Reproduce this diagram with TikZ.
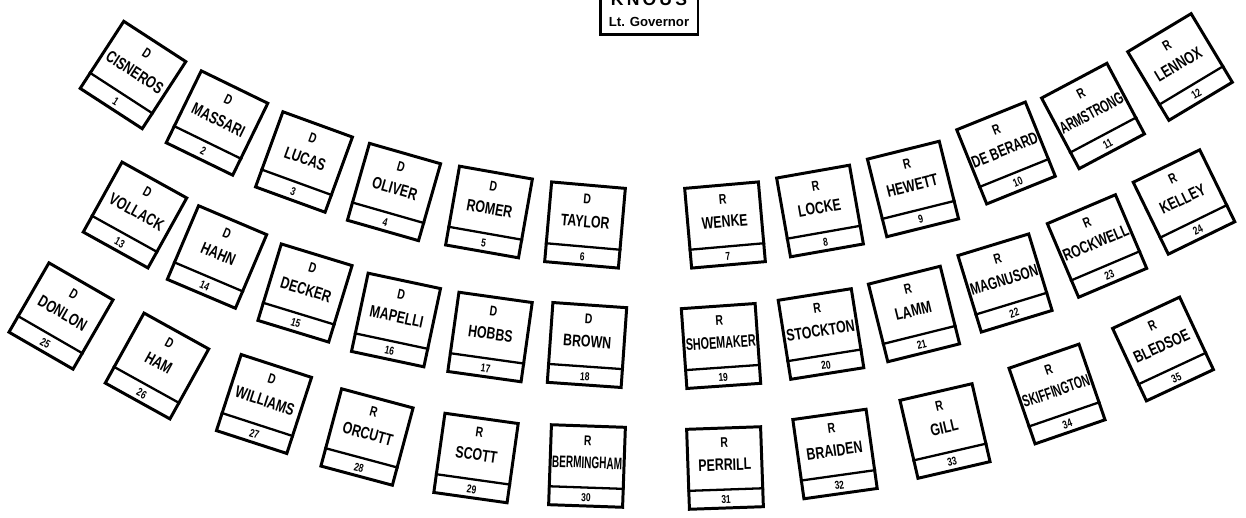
\documentclass[tikz,border=0pt]{standalone}
\usepackage{fontspec}
\usepackage{graphicx}
\setsansfont{Liberation Sans}
\newfontfamily\seatfont{Liberation Sans}[FakeStretch=0.74]
\usetikzlibrary{calc}
\newcommand\fitname[1]{\sbox0{#1}\ifdim\wd0>1.4cm\resizebox{1.4cm}{\height}{#1}\else#1\fi}

\begin{document}
\begin{tikzpicture}[
  x=0.02cm, y=-0.02cm,
  seatbox/.style={
    draw=black,
    line width=1.7pt,
    minimum width=1.48cm,
    minimum height=1.6cm,
    inner sep=0pt
  },
  party/.style={font=\seatfont\bfseries\fontsize{8}{8}\selectfont, inner sep=0pt},
  surname/.style={font=\seatfont\bfseries\fontsize{9.5}{9.5}\selectfont, inner sep=0pt},
  seatno/.style={font=\seatfont\bfseries\fontsize{6.5}{6.5}\selectfont, inner sep=0pt},
  govbox/.style={draw=black, line width=1.7pt, minimum width=1.96cm, minimum height=1.2cm, inner sep=0pt},
  strip/.style={line width=1.3pt}
]
  \useasboundingbox (0,0) rectangle (1246,517);

  % presiding officer
  \node[govbox] (gov) at (649,5) {};
  \node[font=\sffamily\bfseries\fontsize{10}{10}\selectfont\addfontfeature{LetterSpace=18}] (knous) at (649,-1) {KNOUS};
  \node[font=\sffamily\bfseries\fontsize{7.5}{7.5}\selectfont] (ltgov) at (649,22) {Lt. Governor};

  % seats: number / x / y / tilt / party / name
  \foreach \num/\px/\py/\ang/\party/\who in {
    1/133/75/-33/D/CISNEROS, 2/217/123/-26/D/MASSARI, 3/304/162/-20/D/LUCAS,
    4/394/192/-16/D/OLIVER, 5/489/212/-10/D/ROMER, 6/585/225/-5/D/TAYLOR,
    7/725/225/5/R/WENKE, 8/820/211/10/R/LOCKE, 9/913/189/14/R/HEWETT,
    10/1006/153/22/R/DE BERARD, 11/1093/116/28/R/ARMSTRONG, 12/1180/67/31/R/LENNOX,
    13/135/215/-29/D/VOLLACK, 14/217/257/-23/D/HAHN, 15/305/293/-17/D/DECKER,
    16/396/320/-12/D/MAPELLI, 17/490/337/-8/D/HOBBS, 18/587/345/-4/D/BROWN,
    19/721/346/4/R/SHOEMAKER, 20/821/334/9/R/STOCKTON, 21/914/314/14/R/LAMM,
    22/1005/283/17/R/MAGNUSON, 23/1097/246/23/R/ROCKWELL, 24/1184/202/26/R/KELLEY,
    25/61/316/-30/D/DONLON, 26/157/366/-29/D/HAM, 27/264/404/-18/D/WILLIAMS,
    28/367/437/-15/R/ORCUTT, 29/476/458/-8/R/SCOTT, 30/587/466/-2/R/BERMINGHAM,
    31/725/468/2/R/PERRILL, 32/835/454/8/R/BRAIDEN, 33/945/431/13/R/GILL,
    34/1057/394/19/R/SKIFFINGTON, 35/1163/349/25/R/BLEDSOE} {
    \node[seatbox, rotate=\ang] (seat\num) at (\px,\py) {};
    \node[party, rotate=\ang] (party\num) at ($(seat\num.north)!0.19!(seat\num.south)$) {\party};
    \node[surname, rotate=\ang] (name\num) at ($(seat\num.north)!0.46!(seat\num.south)$) {\fitname{\who}};
    \draw[strip] ($(seat\num.south west)!0.24!(seat\num.north west)$) -- ($(seat\num.south east)!0.24!(seat\num.north east)$);
    \node[seatno, rotate=\ang] (no\num) at ($(seat\num.south)!0.12!(seat\num.north)$) {\num};
  }
\end{tikzpicture}
\end{document}
